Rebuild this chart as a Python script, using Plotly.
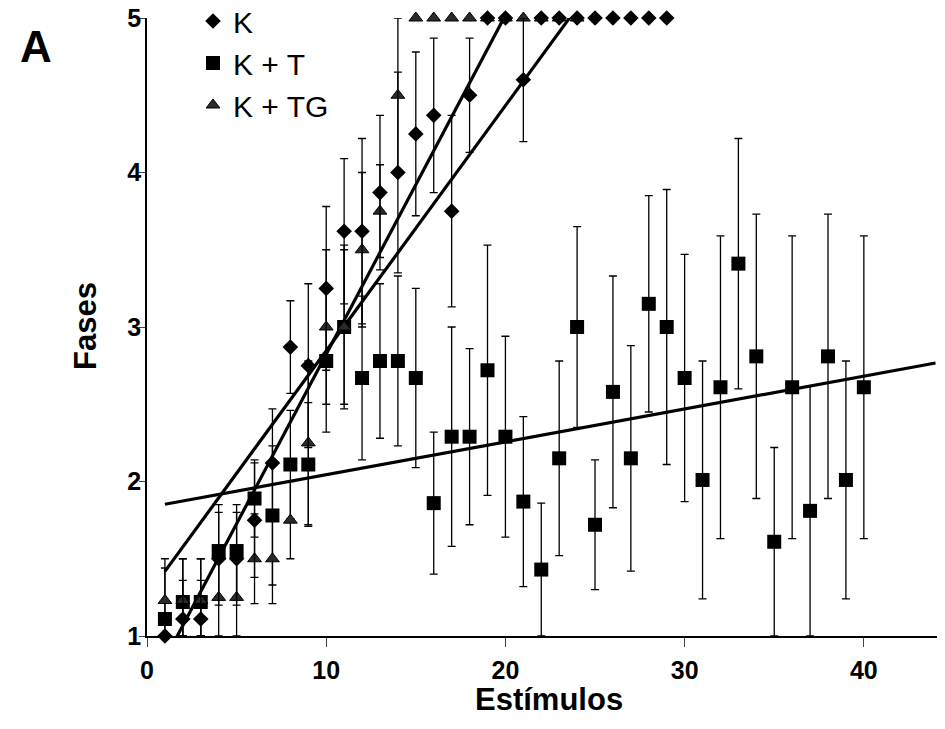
import numpy as np
import plotly.graph_objects as go

# ---------------- data ----------------
k_x = list(range(1, 30))
k_y = [1.00, 1.11, 1.11, 1.50, 1.50, 1.75, 2.12, 2.87, 2.75, 3.25,
       3.62, 3.62, 3.87, 4.00, 4.25, 4.37, 3.75, 4.50, 5.00, 5.00,
       4.60, 5.00, 5.00, 5.00, 5.00, 5.00, 5.00, 5.00, 5.00]
k_err = [0.00, 0.25, 0.25, 0.30, 0.30, 0.37, 0.35, 0.30, 0.53, 0.53,
         0.47, 0.60, 0.50, 0.65, 0.53, 0.50, 0.62, 0.37, 0.00, 0.00,
         0.40, 0.00, 0.00, 0.00, 0.00, 0.00, 0.00, 0.00, 0.00]

kt_x = list(range(1, 41))
kt_y = [1.11, 1.22, 1.22, 1.55, 1.55, 1.89, 1.78, 2.11, 2.11, 2.78,
        3.00, 2.67, 2.78, 2.78, 2.67, 1.86, 2.29, 2.29, 2.72, 2.29,
        1.87, 1.43, 2.15, 3.00, 1.72, 2.58, 2.15, 3.15, 3.00, 2.67,
        2.01, 2.61, 3.41, 2.81, 1.61, 2.61, 1.81, 2.81, 2.01, 2.61]
kt_err = [0.33, 0.28, 0.28, 0.30, 0.30, 0.25, 0.45, 0.35, 0.40, 0.46,
          0.53, 0.53, 0.50, 0.55, 0.58, 0.46, 0.71, 0.57, 0.81, 0.65,
          0.55, 0.43, 0.63, 0.65, 0.42, 0.75, 0.73, 0.70, 0.89, 0.80,
          0.77, 0.98, 0.81, 0.92, 0.61, 0.98, 0.81, 0.92, 0.77, 0.98]

ktg_x = list(range(1, 25))
ktg_y = [1.23, 1.23, 1.23, 1.25, 1.25, 1.50, 1.50, 1.75, 2.25, 3.00,
         3.00, 3.50, 3.75, 4.50, 5.00, 5.00, 5.00, 5.00, 5.00, 5.00,
         5.00, 5.00, 5.00, 5.00]
ktg_err = [0.27, 0.27, 0.27, 0.25, 0.25, 0.29, 0.29, 0.25, 0.53, 0.50,
           0.50, 0.50, 0.30, 0.50, 0.00, 0.00, 0.00, 0.00, 0.00, 0.00,
           0.00, 0.00, 0.00, 0.00]

series_names = ["K", "K + T", "K + TG"]
x_ticks = [0, 10, 20, 30, 40]
y_ticks = [1, 2, 3, 4, 5]
x_range = [0, 44.25]
y_range = [1, 5]
kt_trend_end = 44  # trend line forecast end

FONT = "Liberation Sans, Arial, sans-serif"

# page body has an 8px default margin: compensate so that the plot lands
# where the reference has it (screen pixels)
OFF = 8
SCR_W, SCR_H = 945, 729
PLOT_L, PLOT_R, PLOT_T, PLOT_B = 147, 940, 18, 636
W, H = SCR_W - OFF, SCR_H - OFF
L = PLOT_L - OFF
T = PLOT_T - OFF
R = W - (PLOT_R - OFF)
B = H - (PLOT_B - OFF)
pw, ph = PLOT_R - PLOT_L, PLOT_B - PLOT_T


def px_x(p):
    return (p - PLOT_L) / pw


def px_y(p):
    return (PLOT_B - p) / ph


def err_dict(y, err):
    y = np.asarray(y)
    e = np.asarray(err)
    minus = np.minimum(e, y - y_range[0])
    plus = np.minimum(e, y_range[1] - y)
    return dict(type="data", symmetric=False, array=plus, arrayminus=minus,
                color="black", thickness=1.3, width=4)


def trend(x, y, x_end=None):
    slope, inter = np.polyfit(x, y, 1)
    xs = np.array([x[0], x_end if x_end is not None else x[-1]], dtype=float)
    return xs, inter + slope * xs


fig = go.Figure()

# trend lines
for (xx, yy, xend) in [(k_x, k_y, None), (kt_x, kt_y, kt_trend_end), (ktg_x, ktg_y, None)]:
    tx, ty = trend(xx, yy, xend)
    fig.add_trace(go.Scatter(x=tx, y=ty, mode="lines",
                             line=dict(color="black", width=3.2),
                             showlegend=False, hoverinfo="skip"))

# data series (K drawn last so it sits on top)
fig.add_trace(go.Scatter(x=kt_x, y=kt_y, mode="markers", name=series_names[1],
                         legendrank=2,
                         marker=dict(symbol="square", size=14, color="black"),
                         error_y=err_dict(kt_y, kt_err), cliponaxis=False))
fig.add_trace(go.Scatter(x=ktg_x, y=ktg_y, mode="markers", name=series_names[2],
                         legendrank=3,
                         marker=dict(symbol="triangle-up", size=12, color="#2a2a2a",
                                     line=dict(color="black", width=1)),
                         error_y=err_dict(ktg_y, ktg_err), cliponaxis=False))
fig.add_trace(go.Scatter(x=k_x, y=k_y, mode="markers", name=series_names[0],
                         legendrank=1,
                         marker=dict(symbol="diamond", size=12, color="black"),
                         error_y=err_dict(k_y, k_err), cliponaxis=False))

legend_top_screen = 22 - 27  # first item centre lands at screen y=22

fig.update_layout(
    width=W, height=H,
    margin=dict(l=L, r=R, t=T, b=B, pad=0, autoexpand=False),
    paper_bgcolor="white", plot_bgcolor="white",
    font=dict(family=FONT, color="black"),
    showlegend=True,
    legend=dict(traceorder="normal", xref="paper", yref="paper",
                x=px_x(193), y=px_y(legend_top_screen),
                xanchor="left", yanchor="top",
                bgcolor="rgba(0,0,0,0)", font=dict(size=30, family=FONT),
                itemwidth=30, tracegroupgap=0),
    xaxis=dict(range=x_range, tickvals=x_ticks, ticks="outside", ticklen=9, tickwidth=1.2,
               ticklabelstandoff=2, ticklabeloverflow="allow",
               showline=True, linecolor="black", linewidth=1.5, showgrid=False, zeroline=False,
               tickfont=dict(size=25, family=FONT, weight="bold")),
    yaxis=dict(range=y_range, tickvals=y_ticks, ticks="outside", ticklen=6, tickwidth=1.2,
               ticklabelstandoff=-7, ticklabeloverflow="allow",
               showline=True, linecolor="black", linewidth=1.5, showgrid=False, zeroline=False,
               tickfont=dict(size=25, family=FONT, weight="bold")),
    annotations=[
        dict(text="A", x=px_x(36), y=px_y(46), xref="paper", yref="paper",
             xanchor="center", yanchor="middle",
             showarrow=False, font=dict(size=44, family=FONT, weight="bold")),
        dict(text="Fases", x=px_x(85), y=px_y(326), xref="paper", yref="paper",
             xanchor="center", yanchor="middle",
             showarrow=False, textangle=-90, font=dict(size=31, family=FONT, weight="bold")),
        dict(text="Estímulos", x=px_x(549), y=px_y(699), xref="paper", yref="paper",
             xanchor="center", yanchor="middle",
             showarrow=False, font=dict(size=31, family=FONT, weight="bold")),
    ],
)

fig.write_html("out.html")
